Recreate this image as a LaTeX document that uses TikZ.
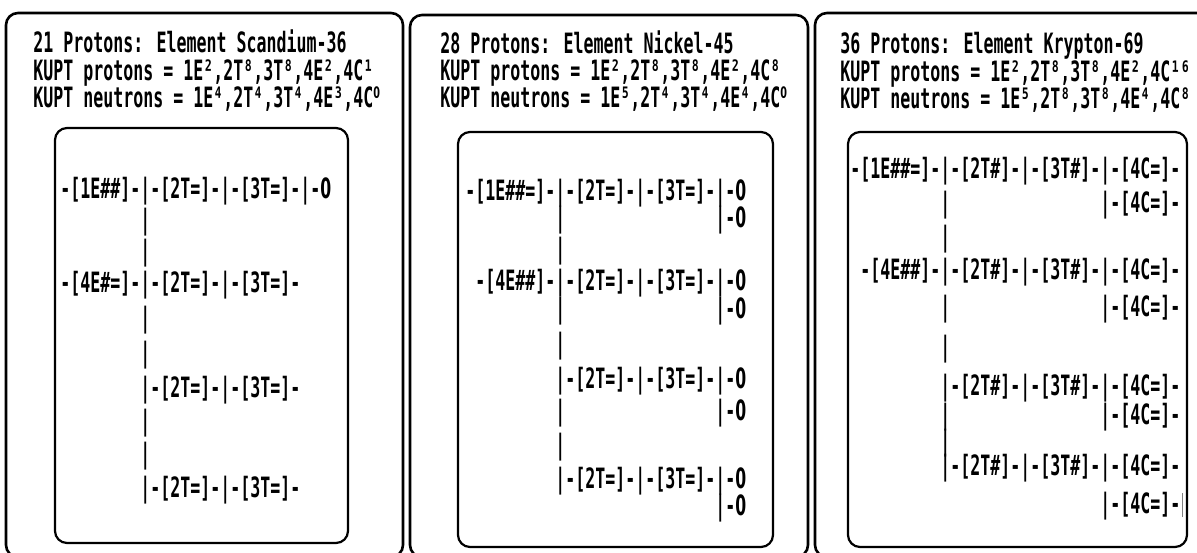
\documentclass[tikz,border=0pt]{standalone}
\usepackage{fontspec}
\usepackage{tikz}
\usetikzlibrary{positioning}

\newfontfamily\kuptfont[FakeStretch=0.593]{DejaVu Sans Mono}
\newfontfamily\zerofont[FakeStretch=0.56]{DejaVu Sans}
\newcommand{\zr}{{\zerofont 0}}
\newcommand{\zs}{{\zerofont ⁰}}
\newcommand{\skipE}{\phantom{-[1E\#\#=]-}}
\newcommand{\skipe}{\phantom{-[1E\#\#]-}}
\newcommand{\skipT}{\phantom{-[2T=]-|-[3T=]-}}
\newcommand{\skipH}{\phantom{-[2T\#]-|-[3T\#]-}}

\tikzset{
    panel/.style={draw, line width=1.3pt, rounded corners=6pt},
    shell/.style={draw, line width=1.1pt, rounded corners=6pt},
    head/.style={anchor=base west, inner sep=0pt, font=\kuptfont\bfseries\fontsize{14pt}{16pt}\selectfont},
    row/.style={anchor=base west, inner sep=0pt, font=\kuptfont\bfseries\fontsize{14pt}{16pt}\selectfont}
}

\begin{document}
\begin{tikzpicture}[x=0.5pt, y=-0.5pt]
    \useasboundingbox (0,0) rectangle (1197,552);

    \draw[panel] (6,13)    rectangle (403,557);
    \draw[panel] (410,15)  rectangle (808,557);
    \draw[panel] (815,13)  rectangle (1215,557);
    \draw[shell] (55,128)  rectangle (348,543);
    \draw[shell] (458,132) rectangle (773,547);
    \draw[shell] (848,132) rectangle (1187,547);

    \node[head] (sc title) at (33,52)  {21 Protons: Element Scandium-36};
    \node[head] (sc p)     at (33,80)  {KUPT protons = 1E²,2T⁸,3T⁸,4E²,4C¹};
    \node[head] (sc n)     at (33,107) {KUPT neutrons = 1E⁴,2T⁴,3T⁴,4E³,4C\zs};

    \node[row] (sc 1)  at (60,198) {-[1E\#\#]-|-[2T=]-|-[3T=]-|-\zr};
    \node[row] (sc 2)  at (60,229) {\skipe|};
    \node[row] (sc 3)  at (60,260) {\skipe|};
    \node[row] (sc 4)  at (60,292) {-[4E\#=]-|-[2T=]-|-[3T=]-};
    \node[row] (sc 5)  at (60,327) {\skipe|};
    \node[row] (sc 6)  at (60,362) {\skipe|};
    \node[row] (sc 7)  at (60,397) {\skipe|-[2T=]-|-[3T=]-};
    \node[row] (sc 8)  at (60,430) {\skipe|};
    \node[row] (sc 9)  at (60,463) {\skipe|};
    \node[row] (sc 10) at (60,497) {\skipe|-[2T=]-|-[3T=]-};

    \node[head] (ni title) at (440,53)  {28 Protons: Element Nickel-45};
    \node[head] (ni p)     at (440,80)  {KUPT protons = 1E²,2T⁸,3T⁸,4E²,4C⁸};
    \node[head] (ni n)     at (440,107) {KUPT neutrons = 1E⁵,2T⁴,3T⁴,4E⁴,4C\zs};

    \node[row] (ni 1)  at (465,200) {-[1E\#\#=]-|-[2T=]-|-[3T=]-|-\zr};
    \node[row] (ni 2)  at (465,227) {\skipE|\skipT|-\zr};
    \node[row] (ni 3)  at (465,258) {\skipE|};
    \node[row] (ni 4)  at (465,290) {\phantom{-}-[4E\#\#]-|-[2T=]-|-[3T=]-|-\zr};
    \node[row] (ni 5)  at (465,318) {\skipE|\skipT|-\zr};
    \node[row] (ni 6)  at (465,353) {\skipE|};
    \node[row] (ni 7)  at (465,388) {\skipE|-[2T=]-|-[3T=]-|-\zr};
    \node[row] (ni 8)  at (465,420) {\skipE|\skipT|-\zr};
    \node[row] (ni 9)  at (465,454) {\skipE|};
    \node[row] (ni 10) at (465,488) {\skipE|-[2T=]-|-[3T=]-|-\zr};
    \node[row] (ni 11) at (465,515) {\skipE\phantom{|}\skipT|-\zr};

    \node[head] (kr title) at (840,53)  {36 Protons: Element Krypton-69};
    \node[head] (kr p)     at (840,81)  {KUPT protons = 1E²,2T⁸,3T⁸,4E²,4C¹⁶};
    \node[head] (kr n)     at (840,108) {KUPT neutrons = 1E⁵,2T⁸,3T⁸,4E⁴,4C⁸};

    \node[row] (kr 1)  at (850,178) {-[1E\#\#=]-|-[2T\#]-|-[3T\#]-|-[4C=]-};
    \node[row] (kr 2)  at (850,212) {\skipE|\skipH|-[4C=]-};
    \node[row] (kr 3)  at (850,246) {\skipE|};
    \node[row] (kr 4)  at (850,279) {\phantom{-}-[4E\#\#]-|-[2T\#]-|-[3T\#]-|-[4C=]-};
    \node[row] (kr 5)  at (850,316) {\skipE|\skipH|-[4C=]-};
    \node[row] (kr 6)  at (850,356) {\skipE|};
    \node[row] (kr 7)  at (850,395) {\skipE|-[2T\#]-|-[3T\#]-|-[4C=]-};
    \node[row] (kr 8)  at (850,424) {\skipE|\skipH|-[4C=]-};
    \node[row] (kr 9)  at (850,450) {\skipE|};
    \node[row] (kr 10) at (850,475) {\skipE|-[2T\#]-|-[3T\#]-|-[4C=]-};
    \node[row] (kr 11) at (850,513) {\skipE\phantom{|}\skipH|-[4C=]-};
    \coordinate (cursor) at ([xshift=1pt]kr 11.base east);
    \draw[gray, line width=0.5pt] ([yshift=-2pt]cursor) -- ([yshift=10pt]cursor);
\end{tikzpicture}
\end{document}
